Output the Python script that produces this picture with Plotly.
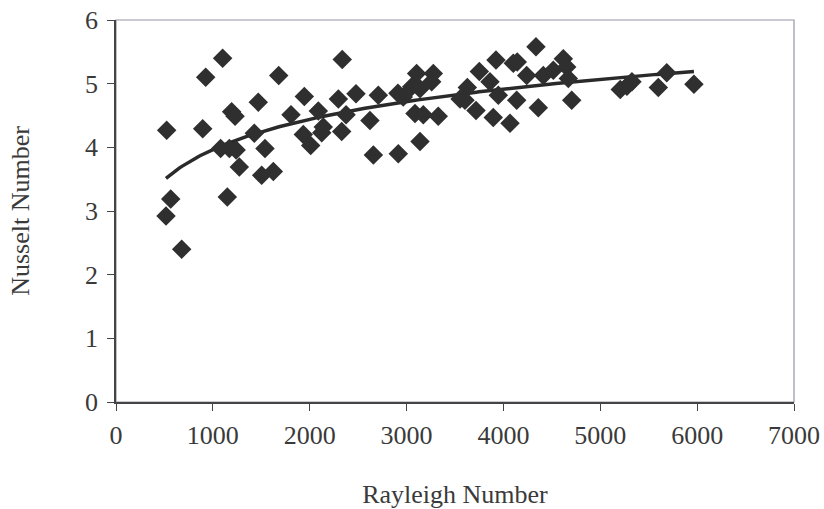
import numpy as np
import plotly.graph_objects as go

rayleigh = [523, 565, 516, 678, 895, 926, 1101, 1080, 1170, 1240, 1149, 1194, 1229, 1273,
            1428, 1469, 1504, 1538, 1624, 1680, 1807, 1944, 1934, 2010, 2089, 2124, 2140,
            2296, 2336, 2330, 2375, 2478, 2622, 2657, 2708, 2915, 2911, 2966, 3104, 3276,
            3259, 3053, 3139, 3087, 3173, 3327, 3139, 3627, 3552, 3603, 3751, 3923, 4102,
            3861, 3947, 3717, 3895, 4068, 4137, 4336, 4143, 4240, 4412, 4515, 4618, 4653,
            4670, 4360, 4705, 5206, 5275, 5327, 5599, 5686, 5967]
nusselt = [4.27, 3.19, 2.92, 2.40, 4.29, 5.10, 5.40, 3.98, 3.98, 3.96, 3.22, 4.56, 4.49, 3.69,
           4.22, 4.71, 3.56, 3.98, 3.62, 5.13, 4.51, 4.80, 4.20, 4.03, 4.57, 4.23, 4.32,
           4.76, 5.38, 4.25, 4.51, 4.84, 4.42, 3.88, 4.82, 3.90, 4.85, 4.79, 5.16, 5.16,
           5.03, 4.95, 4.92, 4.53, 4.51, 4.49, 4.09, 4.94, 4.76, 4.74, 5.19, 5.37, 5.32,
           5.03, 4.82, 4.58, 4.47, 4.38, 4.74, 5.58, 5.34, 5.13, 5.13, 5.21, 5.39, 5.26,
           5.08, 4.62, 4.74, 4.91, 4.96, 5.03, 4.94, 5.17, 4.99]

x_ticks = [0, 1000, 2000, 3000, 4000, 5000, 6000, 7000]
y_ticks = [0, 1, 2, 3, 4, 5, 6]

# logarithmic trendline (least squares on ln x), as a spreadsheet trendline
xa = np.array(rayleigh, dtype=float)
ya = np.array(nusselt, dtype=float)
a, b = np.polyfit(np.log(xa), ya, 1)
xt = np.linspace(xa.min(), xa.max(), 200)
yt = a * np.log(xt) + b

fig = go.Figure()
fig.add_trace(go.Scatter(x=xt, y=yt, mode="lines",
                         line=dict(color="#2a2a2a", width=3.5), hoverinfo="skip"))
fig.add_trace(go.Scatter(x=rayleigh, y=nusselt, mode="markers",
                         marker=dict(symbol="diamond", size=15, color="#2f2f2f")))

font = "Liberation Serif, Times New Roman, serif"
fig.update_layout(
    width=824, height=509,
    margin=dict(l=116, r=30, t=20, b=107, autoexpand=False),
    paper_bgcolor="white", plot_bgcolor="white",
    showlegend=False,
    font=dict(family=font, size=26, color="#3a3a3a"),
    xaxis=dict(range=[0, 7000], tickvals=x_ticks, ticks="outside", ticklen=7,
               tickcolor="#444", showline=True, linecolor="#444", linewidth=1.5,
               showgrid=False, zeroline=False, ticklabelstandoff=2, automargin=False,
               title=dict(text="Rayleigh Number", standoff=36,
                          font=dict(family=font, size=26, color="#3a3a3a"))),
    yaxis=dict(range=[0, 6], tickvals=y_ticks, ticks="outside", ticklen=7,
               tickcolor="#444", showline=True, linecolor="#444", linewidth=1.5,
               showgrid=False, zeroline=False, ticklabelstandoff=4, automargin=False,
               title=dict(text="Nusselt Number", standoff=48,
                          font=dict(family=font, size=26, color="#3a3a3a"))),
    shapes=[dict(type="rect", xref="paper", yref="paper", x0=0, y0=0, x1=1, y1=1,
                 line=dict(color="#9a94a8", width=1.2), layer="below")],
)

fig.write_html("out.html")
